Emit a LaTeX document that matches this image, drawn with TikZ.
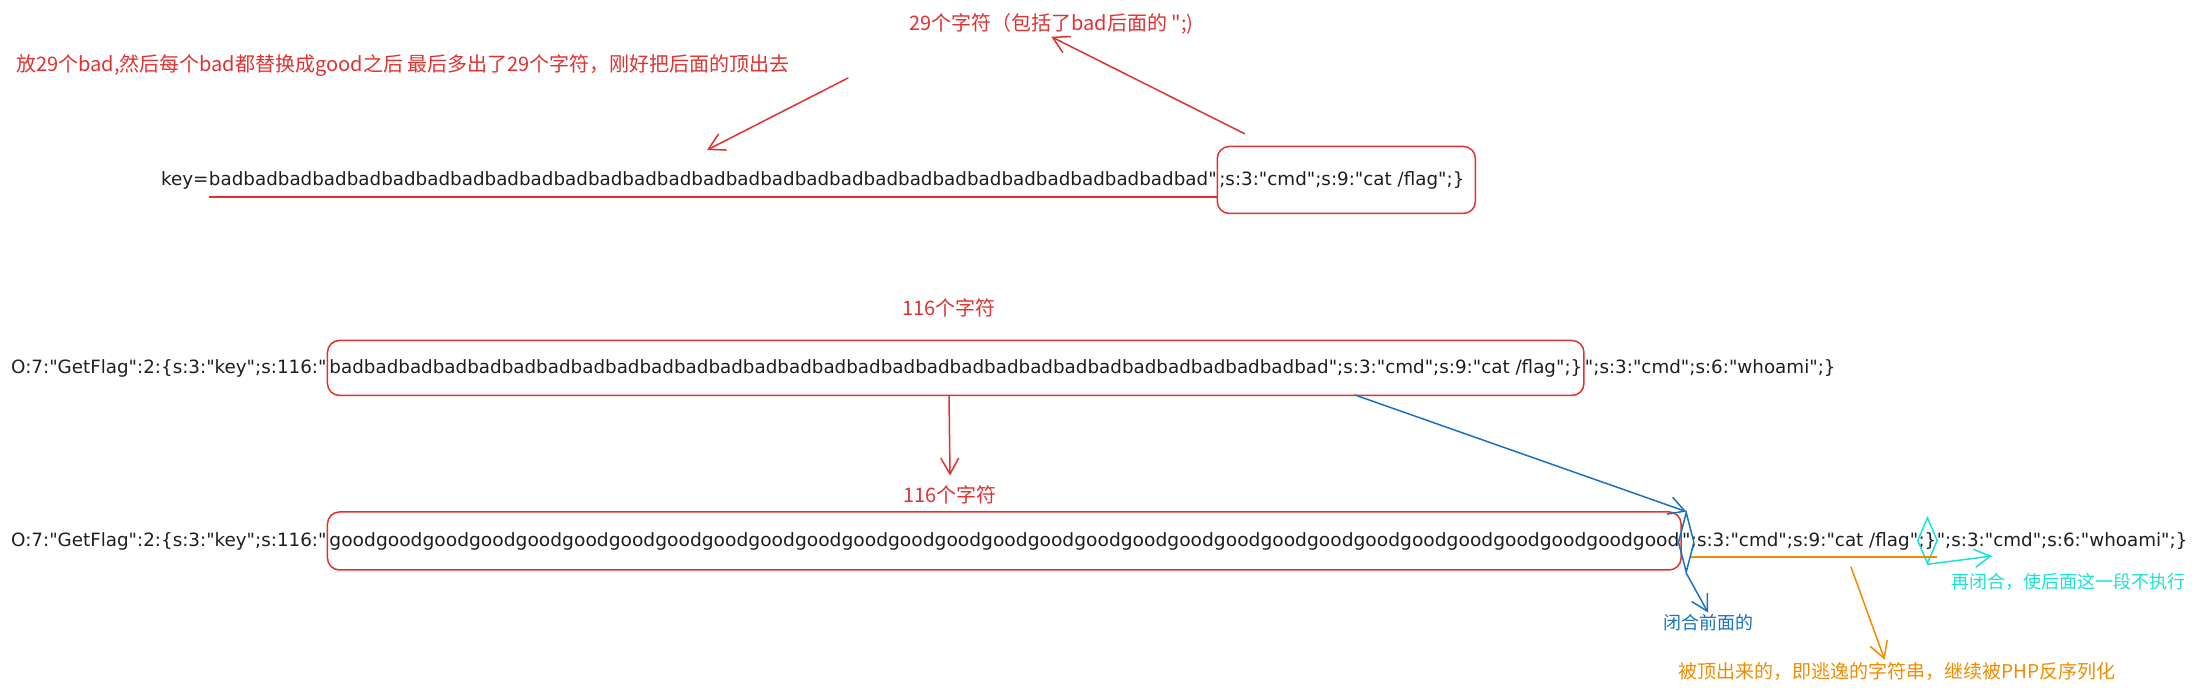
\documentclass[tikz,border=0pt]{standalone}
\usepackage{fontspec}
\setmainfont[Ligatures=TeXOff]{DejaVu Sans}
\newfontfamily\cjk[Ligatures=TeXOff]{Noto Sans CJK SC}
\usetikzlibrary{arrows.meta,shapes.geometric}

\definecolor{exred}{RGB}{224,49,49}
\definecolor{exblue}{RGB}{25,113,194}
\definecolor{exorange}{RGB}{240,140,0}
\definecolor{excyan}{RGB}{22,228,210}
\definecolor{ink}{RGB}{30,30,30}

\newcommand{\badrun}{badbadbadbadbadbadbadbadbadbadbadbadbadbadbadbadbadbadbadbadbadbadbadbadbadbadbadbadbad}
\newcommand{\goodrun}{goodgoodgoodgoodgoodgoodgoodgoodgoodgoodgoodgoodgoodgoodgoodgoodgoodgoodgoodgoodgoodgoodgoodgoodgoodgoodgoodgoodgood}

\tikzset{
  code/.style={font=\fontsize{18.3}{22}\selectfont, text=ink, inner sep=0pt, anchor=base west},
  redbox/.style={draw=exred, line width=1.5pt, rounded corners=12pt},
  note/.style={font=\cjk\fontsize{20}{24}\selectfont, inner sep=2pt},
  pen/.style={line width=1.5pt, line cap=round, -{Straight Barb[length=16pt,width=18pt]}},
}

\begin{document}
\begin{tikzpicture}[x=1pt, y=-1pt]
  \useasboundingbox (0,0) rectangle (2195,694);

  \node[note, text=exred, anchor=west] (top) at (907,24) {29个字符（包括了bad后面的 ";)};
  \node[note, text=exred, anchor=west] (why) at (14,66) {放29个bad,然后每个bad都替换成good之后 最后多出了29个字符，刚好把后面的顶出去};

  \node[code] (k1) at (161,185) {key=};
  \node[code] (b1) at (k1.base east) {\badrun"};
  \node[code, redbox, inner xsep=2pt, minimum height=67pt] (t1) at (b1.base east) {;s:3:"cmd";s:9:"cat /flag";\}\kern9pt};
  \draw[exred, line width=2pt] ([yshift=-12pt]b1.base west) -- ([yshift=-12pt]b1.base east);

  \coordinate (r1s) at (848,78);
  \coordinate (r1e) at (707,150);
  \draw[pen, exred] (r1s) -- (r1e);
  \draw[pen, exred] ([shift={(28pt,12pt)}]t1.north west) -- (top.south);

  \node[note, text=exred] (n116a) at (949,308) {116个字符};
  \node[code] (p2) at (11,373) {O:7:"GetFlag":2:\{s:3:"key";s:116:"};
  \node[code, redbox, inner xsep=2pt, minimum height=55pt] (b2) at (p2.base east) {\badrun";s:3:"cmd";s:9:"cat /flag";\}};
  \node[code] (s2) at (b2.base east) {";s:3:"cmd";s:6:"whoami";\}};

  \node[note, text=exred] (n116b) at (950,495) {116个字符};
  \draw[pen, exred] (b2.south -| n116a) -- ([yshift=8pt]n116b.north);

  \node[code] (p3) at (11,546) {O:7:"GetFlag":2:\{s:3:"key";s:116:"};
  \node[code, redbox, inner xsep=2pt, minimum height=58pt] (b3) at (p3.base east) {\scalebox{1.02}[1]{\goodrun}};
  \node[code] (q3) at (b3.base east) {"};
  \node[code] (s3a) at (q3.base east) {;s:3:"cmd";s:9:"cat /flag"};
  \node[code] (s3b) at (s3a.base east) {;\}};
  \node[code] (s3c) at (s3b.base east) {";s:3:"cmd";s:6:"whoami";\}};

  \node[diamond, draw=exblue, line width=1.5pt, minimum width=16pt, minimum height=60pt, inner sep=0pt] (d1) at ([yshift=-3pt]q3.center) {};
  \node[diamond, draw=excyan, line width=1.5pt, minimum width=20pt, minimum height=46pt, inner sep=0pt] (d2) at (s3b.center) {};

  \node[note, text=exblue, font=\cjk\fontsize{18}{22}\selectfont] (close) at (1708,623) {闭合前面的};
  \node[note, text=excyan, anchor=west, font=\cjk\fontsize{18}{22}\selectfont] (again) at (1949,582) {再闭合，使后面这一段不执行};
  \node[note, text=exorange, anchor=west, font=\cjk\fontsize{19}{23}\selectfont] (esc) at (1676,671) {被顶出来的，即逃逸的字符串，继续被PHP反序列化};

  \coordinate (bl) at (1355,395);
  \draw[pen, exblue] (bl) -- (d1.north);
  \draw[pen, exblue] (d1.south) -- (close.north);

  \draw[exorange, line width=2pt] ([yshift=-11pt]s3a.base west) -- ([yshift=-11pt]s3b.base east);
  \coordinate (or) at (1851,567);
  \draw[pen, exorange] (or) -- ([xshift=-12pt]esc.north);

  \coordinate (cy) at (1992,556);
  \draw[pen, excyan] (d2.south) -- (cy);
\end{tikzpicture}
\end{document}
